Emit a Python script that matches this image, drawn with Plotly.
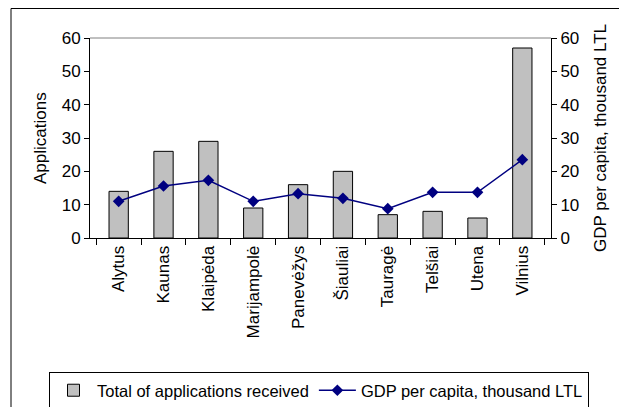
import plotly.graph_objects as go

regions = ["Alytus", "Kaunas", "Klaipėda", "Marijampolė", "Panevėžys",
           "Šiauliai", "Tauragė", "Telšiai", "Utena", "Vilnius"]
applications = [14, 26, 29, 9, 16, 20, 7, 8, 6, 57]
gdp = [11.0, 15.6, 17.3, 11.0, 13.3, 11.9, 8.8, 13.7, 13.7, 23.5]
yticks = [0, 10, 20, 30, 40, 50, 60]

FONT = "Liberation Sans, Arial, sans-serif"
OFF = 8  # page body margin of the browser
W, H = 627 - OFF, 407 - OFF
L, R, T, B = 90 - OFF, 551 - OFF, 38 - OFF, 238 - OFF
pw = R - L
ph = B - T


def px(x):
    return (x - OFF - L) / pw


def py(y):
    return (B - (y - OFF)) / ph


fig = go.Figure()
fig.add_trace(go.Bar(
    x=regions, y=applications, name="Total of applications received",
    marker=dict(color="#C0C0C0", line=dict(color="black", width=1)),
))
fig.add_trace(go.Scatter(
    x=regions, y=gdp, name="GDP per capita, thousand LTL", yaxis="y2",
    mode="lines+markers",
    line=dict(color="#000080", width=1.5),
    marker=dict(symbol="diamond", size=9, color="#000080"),
))

fig.update_layout(
    width=W, height=H,
    margin=dict(l=L, r=W - R, t=T, b=H - B, autoexpand=False),
    paper_bgcolor="white", plot_bgcolor="white",
    font=dict(family=FONT, size=17, color="black"),
    bargap=0.57,
    showlegend=True,
    legend=dict(orientation="h", x=px(49), y=py(372),
                xanchor="left", yanchor="top",
                bordercolor="black", borderwidth=1,
                font=dict(size=16.5), itemwidth=37,
                tracegroupgap=0),
    xaxis=dict(showline=True, linecolor="black", linewidth=1,
               ticks="outside", ticklen=6, tickcolor="black",
               tickson="boundaries", tickangle=-90,
               showgrid=False, zeroline=False,
               tickfont=dict(size=17)),
    yaxis=dict(range=[0, 60], tickvals=yticks, showline=True,
               linecolor="black", ticks="outside", ticklen=5,
               tickcolor="black", showgrid=False, zeroline=False,
               tickfont=dict(size=17)),
    yaxis2=dict(range=[0, 60], tickvals=yticks, overlaying="y",
                side="right", showline=True, linecolor="black",
                ticks="outside", ticklen=5, tickcolor="black",
                showgrid=False, zeroline=False, tickfont=dict(size=17)),
    shapes=[
        dict(type="line", xref="paper", yref="paper", x0=0, x1=1, y0=1, y1=1,
             line=dict(color="#808080", width=1)),
        dict(type="rect", xref="paper", yref="paper",
             x0=px(11), x1=px(640), y0=py(420), y1=py(8.5),
             line=dict(color="black", width=1)),
    ],
    annotations=[
        dict(text="Applications", xref="paper", yref="paper",
             x=px(40), y=0.5, textangle=-90, showarrow=False,
             xanchor="center", yanchor="middle", font=dict(size=17)),
        dict(text="GDP per capita, thousand LTL", xref="paper", yref="paper",
             x=px(600), y=0.5, textangle=-90, showarrow=False,
             xanchor="center", yanchor="middle", font=dict(size=17)),
    ],
)

fig.write_html("out.html")
